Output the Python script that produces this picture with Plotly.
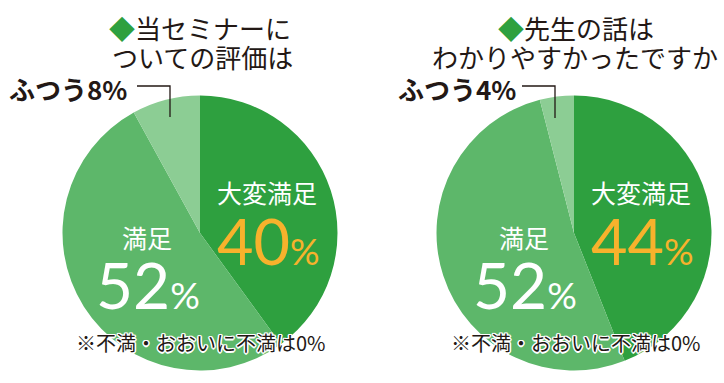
import plotly.graph_objects as go

W, H = 724, 383

# ---- data ----
categories = ["大変満足", "満足", "ふつう"]
seminar_values = [40, 52, 8]
teacher_values = [44, 52, 4]
titles = [["当セミナーに", "ついての評価は"], ["先生の話は", "わかりやすかったですか"]]
footnote = "※不満・おおいに不満は0%"

colors = ["#2ea03f", "#5db76a", "#8ccd94"]
ORANGE = "#f7b22c"
INK = "#231815"
JP = "Noto Sans CJK JP"
NUM = "Lato"

def px(x):
    return x / W

def py(y):
    return 1 - y / H

R = 137.5
CY = 233
centers = [200, 574]

fig = go.Figure()
for cx, vals in zip(centers, [seminar_values, teacher_values]):
    fig.add_trace(go.Pie(
        labels=categories, values=vals, sort=False, direction="clockwise",
        marker=dict(colors=colors, line=dict(width=0)),
        textinfo="none", hoverinfo="label+percent", showlegend=False,
        domain=dict(x=[px(cx - R), px(cx + R)], y=[py(CY + R), py(CY - R)]),
    ))

ann = []
def A(x, y, text, size, color=INK, family=JP, xanchor="center", weight=None, shadow=None):
    f = dict(size=size, color=color, family=family)
    if weight:
        f["weight"] = weight
    if shadow:
        f["shadow"] = shadow
    ann.append(dict(x=px(x), y=py(y), xref="paper", yref="paper", text=text,
                    showarrow=False, xanchor=xanchor, yanchor="middle", font=f, align="center"))

halo = ("white 1.5px 0 0, white -1.5px 0 0, white 0 1.5px 0, white 0 -1.5px 0, "
        "white 1px 1px 0, white -1px -1px 0, white 1px -1px 0, white -1px 1px 0")

# titles
for (c1, c2), (l1, l2) in zip([(200, 202), (576, 575)], titles):
    A(c1, 27, f"<span style='color:{colors[0]}'>◆</span>{l1}", 26)
    A(c2, 56, l2, 26)

# ふつう labels + leader lines
for vals, rx in zip([seminar_values, teacher_values], [129, 518]):
    A(rx, 88, f"<b>{categories[2]}{vals[2]}%</b>", 26, xanchor="right")

shapes = []
for x0, x1, y_end in [(137, 170, 117), (522, 555, 118)]:
    shapes.append(dict(type="path", xref="paper", yref="paper",
                       path=f"M {px(x0)} {py(86)} L {px(x1)} {py(86)} L {px(x1)} {py(y_end)}",
                       line=dict(color=INK, width=1.3)))

# inner labels
for vals, bx, sx in zip([seminar_values, teacher_values], [267, 641], [147, 524]):
    A(bx, 192, categories[0], 25, color="white")
    A(bx + 1, 240, f"{vals[0]}<span style='font-size:37px'>%</span>", 63, color=ORANGE, family=NUM)
    A(sx, 237, categories[1], 25, color="white")
    A(sx + 1, 284, f"{vals[1]}<span style='font-size:37px'>%</span>", 64, color="white", family=NUM)

# footnotes
for fx in [201, 576]:
    A(fx, 342, footnote, 20, shadow=halo)

fig.update_layout(
    width=W, height=H, margin=dict(l=0, r=0, t=0, b=0),
    paper_bgcolor="white", plot_bgcolor="white",
    annotations=ann, shapes=shapes,
)

fig.write_html("out.html", config={"displayModeBar": False},
               post_script="document.body.style.margin='0';")
